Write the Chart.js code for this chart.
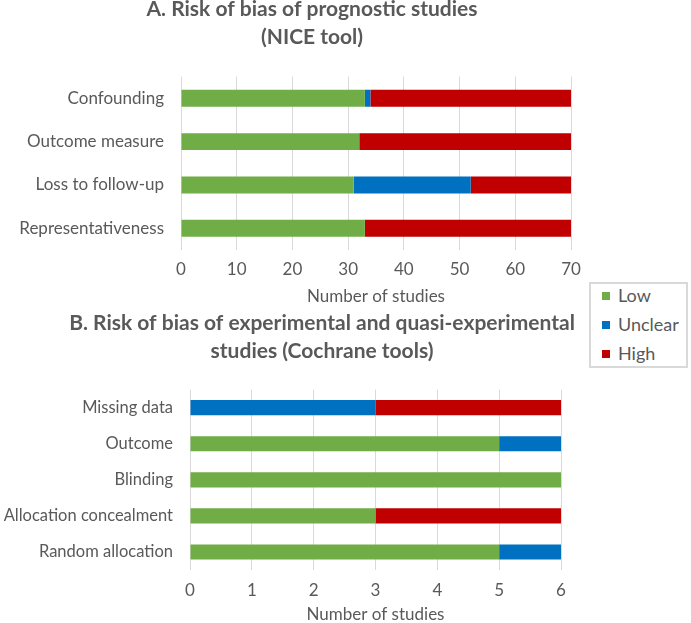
<!DOCTYPE html>
<html>
<head>
<meta charset="utf-8">
<script src="https://cdn.jsdelivr.net/npm/chart.js@4.4.0/dist/chart.umd.min.js"></script>
<style>
  html, body { margin:0; padding:0; background:#fff; }
  body { width:691px; height:623px; overflow:hidden; position:relative; font-family: Lato, "Open Sans", sans-serif; }
  #ca { position:absolute; left:0; top:-4px; }
  #cb { position:absolute; left:0; top:310px; }
  #legend { position:absolute; left:589px; top:282px; width:99px; height:86px; box-sizing:border-box; border:2px solid #d9d9d9; background:#fff; }
  .li { position:absolute; left:11px; height:20px; line-height:20px; font-size:18px; color:#595959; white-space:nowrap; }
  .sw { display:inline-block; width:8px; height:8px; margin-right:8px; vertical-align:middle; position:relative; top:-1px; }
</style>
</head>
<body>
<canvas id="ca" width="624" height="309"></canvas>
<canvas id="cb" width="644" height="313"></canvas>
<div id="legend"></div>
<script>
// ---- Data ----
const seriesNames = ['Low', 'Unclear', 'High'];
const seriesColors = ['#70AD47', '#0070C0', '#C00000'];

const titleA = ['A. Risk of bias of prognostic studies', '(NICE tool)'];
const categoriesA = ['Confounding', 'Outcome measure', 'Loss to follow-up', 'Representativeness'];
const lowA = [33, 32, 31, 33];
const unclearA = [1, 0, 21, 0];
const highA = [36, 38, 18, 37];
const xMaxA = 70, xStepA = 10;

const titleB = ['B. Risk of bias of experimental and quasi-experimental', 'studies (Cochrane tools)'];
const categoriesB = ['Missing data', 'Outcome', 'Blinding', 'Allocation concealment', 'Random allocation'];
const lowB = [0, 5, 6, 3, 5];
const unclearB = [3, 1, 0, 0, 1];
const highB = [3, 0, 0, 3, 0];
const xMaxB = 6, xStepB = 1;

const axisTitle = 'Number of studies';

// ---- Styling ----
const FONT = 'Lato, "Open Sans", sans-serif';
const TEXT = '#595959';
const GRID = '#D9D9D9';

function makeChart(canvasId, cfg) {
  const values = [cfg.low, cfg.unclear, cfg.high];
  return new Chart(document.getElementById(canvasId), {
    type: 'bar',
    data: {
      labels: cfg.categories,
      datasets: seriesNames.map((name, i) => ({
        label: name,
        data: values[i],
        backgroundColor: seriesColors[i],
        borderWidth: 0,
        yAxisID: 'y',
        xAxisID: 'x',
        categoryPercentage: 1.0,
        barPercentage: cfg.barPct
      }))
    },
    options: {
      indexAxis: 'y',
      responsive: false,
      animation: false,
      layout: { padding: 0 },
      plugins: {
        legend: { display: false },
        tooltip: { enabled: false },
        title: {
          display: true,
          text: cfg.title,
          color: TEXT,
          font: { family: FONT, size: 21, weight: 'bold', lineHeight: 1.3 },
          padding: { top: 0, bottom: cfg.titlePadB }
        }
      },
      scales: {
        x: {
          stacked: true,
          min: 0, max: cfg.xMax,
          position: 'bottom',
          border: { display: false },
          grid: { display: true, color: GRID, lineWidth: 1, drawTicks: true, tickLength: cfg.tickLen, tickColor: 'rgba(0,0,0,0)' },
          ticks: { stepSize: cfg.xStep, color: TEXT, padding: 4, font: { family: FONT, size: 17, lineHeight: 1 } },
          title: { display: true, text: axisTitle, color: TEXT, font: { family: FONT, size: 17, lineHeight: 1 }, padding: { top: cfg.axTitlePad, bottom: 0 } }
        },
        y: {
          stacked: true,
          position: 'left',
          border: { display: false },
          grid: { display: false, drawTicks: false },
          ticks: { color: TEXT, padding: cfg.yPad, font: { family: FONT, size: cfg.catSize } },
          afterFit: (s) => { s.width = cfg.yWidth; }
        },
        yR: {
          type: 'linear',
          position: 'right',
          display: true,
          border: { display: false },
          grid: { display: false, drawTicks: false },
          ticks: { display: false },
          afterFit: (s) => { s.width = cfg.rightSpace; }
        }
      }
    }
  });
}

makeChart('ca', {
  title: titleA, categories: categoriesA, low: lowA, unclear: unclearA, high: highA,
  xMax: xMaxA, xStep: xStepA, barPct: 0.39, titlePadB: 26, tickLen: 7, axTitlePad: 6,
  yWidth: 181, yPad: 17, catSize: 17, rightSpace: 53
});

makeChart('cb', {
  title: titleB, categories: categoriesB, low: lowB, unclear: unclearB, high: highB,
  xMax: xMaxB, xStep: xStepB, barPct: 0.42, titlePadB: 25, tickLen: 8, axTitlePad: 3,
  yWidth: 190, yPad: 17, catSize: 16.5, rightSpace: 83
});

// ---- Legend (HTML, built from series arrays) ----
const legend = document.getElementById('legend');
seriesNames.forEach((name, i) => {
  const row = document.createElement('div');
  row.className = 'li';
  row.style.top = (1 + 29 * i) + 'px';
  const sw = document.createElement('span');
  sw.className = 'sw';
  sw.style.background = seriesColors[i];
  row.appendChild(sw);
  row.appendChild(document.createTextNode(name));
  legend.appendChild(row);
});
</script>
</body>
</html>
